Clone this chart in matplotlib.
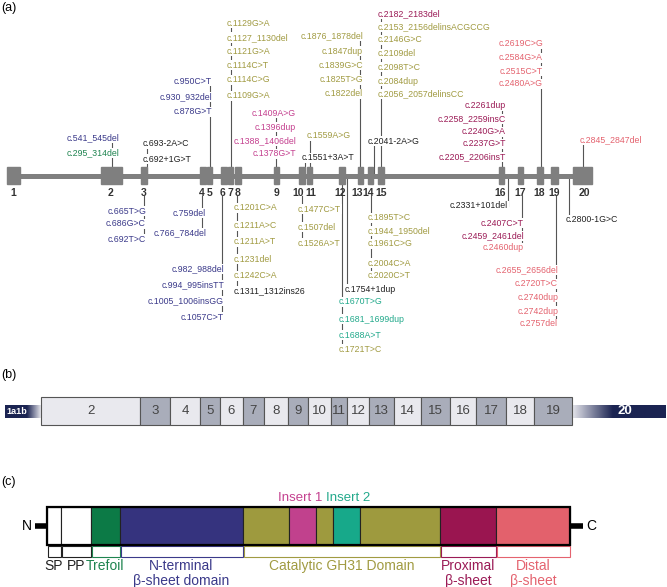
import numpy as np
import matplotlib.pyplot as plt
from matplotlib.patches import Rectangle
from matplotlib.colors import LinearSegmentedColormap

plt.rcParams['font.family'] = ['Liberation Sans', 'DejaVu Sans']

# ---------------- data ----------------
# (a) gene schematic: exons 1..20
exon_num = list(range(1, 21))
exon_start = [7, 101, 141, 200, 207, 221, 228, 235, 274, 299, 307, 339, 358, 368, 378, 499, 518, 537, 551, 573]
exon_end = [20, 122, 147, 206, 212, 227, 233, 241, 279, 305, 312, 345, 363, 373, 384, 504, 523, 543, 558, 592]

# domain colours (shared by all panels)
dom_color = {'SP': '#222222', 'T': '#1f8450', 'N': '#3b3a8a', 'C': '#a19b42',
             'I1': '#c4408f', 'I2': '#22a98b', 'P': '#9b1b56', 'D': '#e4636f',
             'S': '#222222'}

# variants, one list per connector
mut_labels = [
    ["c.541_545del", "c.295_314del"],
    ["c.693-2A>C", "c.692+1G>T"],
    ["c.950C>T", "c.930_932del", "c.878G>T"],
    ["c.1129G>A", "c.1127_1130del", "c.1121G>A", "c.1114C>T", "c.1114C>G", "c.1109G>A"],
    ["c.1409A>G", "c.1396dup", "c.1388_1406del", "c.1378G>T"],
    ["c.1559A>G"],
    ["c.1551+3A>T"],
    ["c.1876_1878del", "c.1847dup", "c.1839G>C", "c.1825T>G", "c.1822del"],
    ["c.2041-2A>G"],
    ["c.2182_2183del", "c.2153_2156delinsACGCCG", "c.2146G>C", "c.2109del",
     "c.2098T>C", "c.2084dup", "c.2056_2057delinsCC"],
    ["c.2261dup", "c.2258_2259insC", "c.2240G>A", "c.2237G>T", "c.2205_2206insT"],
    ["c.2619C>G", "c.2584G>A", "c.2515C>T", "c.2480A>G"],
    ["c.2845_2847del"],
    ["c.665T>G", "c.686G>C", "c.692T>C"],
    ["c.759del", "c.766_784del"],
    ["c.982_988del", "c.994_995insTT", "c.1005_1006insGG", "c.1057C>T"],
    ["c.1201C>A", "c.1211A>C", "c.1211A>T", "c.1231del", "c.1242C>A", "c.1311_1312ins26"],
    ["c.1477C>T", "c.1507del", "c.1526A>T"],
    ["c.1670T>G", "c.1681_1699dup", "c.1688A>T", "c.1721T>C"],
    ["c.1754+1dup"],
    ["c.1895T>C", "c.1944_1950del", "c.1961C>G", "c.2004C>A", "c.2020C>T"],
    ["c.2331+101del"],
    ["c.2407C>T", "c.2459_2461del", "c.2460dup"],
    ["c.2655_2656del", "c.2720T>C", "c.2740dup", "c.2742dup", "c.2757del"],
    ["c.2800-1G>C"],
]
mut_domains = [
    ['N', 'T'], ['S', 'S'], ['N'] * 3, ['C'] * 6, ['I1'] * 4, ['C'], ['S'],
    ['C'] * 5, ['S'], ['P'] + ['C'] * 6, ['P'] * 5, ['D'] * 4, ['D'],
    ['N'] * 3, ['N'] * 2, ['N'] * 4, ['C'] * 5 + ['S'], ['C'] * 3,
    ['I2'] * 3 + ['C'], ['S'], ['C'] * 5, ['S'], ['P', 'P', 'D'], ['D'] * 5, ['S'],
]

# (b) transcript schematic
b_exons = list(range(2, 20))
b_edges = [41, 140, 170, 200, 220, 243, 264, 288, 308, 331, 347, 369, 394, 421,
           450, 476, 506, 534, 572]

# (c) protein domains
c_edges = [47, 61, 91, 120, 243, 289, 316, 333, 360, 440, 496, 570]
c_fill = ['white', 'white', '#0c7a46', '#35337e', '#9e9a3e', '#c1418d',
          '#9e9a3e', '#17a98a', '#9e9a3e', '#9a1550', '#e3616c']
dom_names = ['SP', 'PP', 'Trefoil', 'N-terminal\nβ-sheet domain', 'Catalytic GH31 Domain',
             'Proximal\nβ-sheet', 'Distal\nβ-sheet']
dom_edges = [(47, 61), (61, 91), (91, 120), (120, 243), (243, 440), (440, 496), (496, 570)]
dom_key = ['SP', 'SP', 'T', 'N', 'C', 'P', 'D']

# ---------------- layout of panel (a) labels ----------------
num_x = [13, 111, 144, 202, 210, 222, 230, 238, 276, 298, 311, 340, 357, 368, 381,
         500, 520, 539, 554, 584]
grp_cx = [112, 147, 210, 231, 276, 310, 305, 360, 374, 381, 502, 541, 583,
          144, 202, 222, 237, 302, 342, 347, 371, 508, 522, 556, 569]
grp_tx = [119, 143, 212, 227, 296, 307, 302, 363, 368, 378, 506, 543, 580,
          146, 206, 224, 234, 298, 339, 345, 368, 508, 524, 558, 566]
grp_ha = ['right', 'left', 'right', 'left', 'right', 'left', 'left', 'right', 'left', 'left',
          'right', 'right', 'left',
          'right', 'right', 'right', 'left', 'left', 'left', 'left', 'left', 'right', 'right',
          'right', 'left']
grp_ys = [
    [138, 153], [144, 159], [81, 97, 112], [23, 37.5, 51, 65, 80, 96],
    [113, 127, 141, 154], [136], [158], [36, 51, 65, 80, 94], [141],
    [14, 27, 40, 54, 67, 81, 94], [106, 119, 132, 144, 157], [44, 58, 71, 84], [140],
    [211, 224, 239], [213, 233], [269, 285, 301, 317], [208, 226, 242, 259, 276, 291],
    [209, 227, 243], [302, 319, 335, 349], [289], [218, 231, 244, 263, 276], [206],
    [223, 236, 248], [270, 284, 297, 311, 324], [220],
]
grp_start = [176] * 13 + [196, 196, 196, 196, 196, 176, 176, 196, 176, 196, 196, 176]

# ---------------- drawing ----------------
fig = plt.figure(figsize=(6.67, 5.87), dpi=100)
ax = fig.add_axes([0, 0, 1, 1])

# panel (a)
ax.plot([exon_start[0], exon_end[-1]], [176, 176], color='#808080', lw=3.6,
        solid_capstyle='butt', zorder=2)
for s, e in zip(exon_start, exon_end):
    ax.add_patch(Rectangle((s, 167), e - s, 17, color='#7f7f7f', zorder=3))
for n, x in zip(exon_num, num_x):
    ax.text(x, 193, str(n), ha='center', va='center', fontsize=7.5,
            fontweight='bold', color='#333333', zorder=5)

for labels, doms, cx, tx, ha, ys, y0 in zip(mut_labels, mut_domains, grp_cx, grp_tx,
                                            grp_ha, grp_ys, grp_start):
    far = ys[0] if ys[0] < y0 else ys[-1]
    ax.plot([cx, cx], [y0, far], color='#555555', lw=0.8, zorder=1)
    for lab, d, y in zip(labels, doms, ys):
        ax.text(tx, y, lab, ha=ha, va='center', fontsize=6.3, color=dom_color[d],
                zorder=4, bbox=dict(facecolor='white', edgecolor='none', pad=0.5))

# panel (b)
navy = '#1b2452'
cmap = LinearSegmentedColormap.from_list('fade', [navy, '#e6e6ec'])
xl = np.linspace(5, 41, 200)
ax.imshow(np.clip((xl - 27) / 14, 0, 1)[None, :], cmap=cmap, vmin=0, vmax=1,
          extent=(5, 41, 418, 405), aspect='auto', zorder=2)
xr = np.linspace(572, 666, 300)
ax.imshow(np.clip((613 - xr) / 41, 0, 1)[None, :], cmap=cmap, vmin=0, vmax=1,
          extent=(572, 666, 418, 405), aspect='auto', zorder=2)
for i, n in enumerate(b_exons):
    fc = '#e9e9ee' if n % 2 == 0 else '#a9adba'
    ax.add_patch(Rectangle((b_edges[i], 397), b_edges[i + 1] - b_edges[i], 28,
                           facecolor=fc, edgecolor='#555555', lw=0.8, zorder=3))
    ax.text((b_edges[i] + b_edges[i + 1]) / 2, 411.5, str(n), ha='center', va='center',
            fontsize=9.5, color='#444444', zorder=4)
ax.text(16.5, 411.5, '1a1b', ha='center', va='center', fontsize=6.5, fontweight='bold',
        color='white', zorder=4)
ax.text(625, 411.5, '20', ha='center', va='center', fontsize=9.5, fontweight='bold',
        color='white', zorder=4)

# panel (c)
for i, fc in enumerate(c_fill):
    ax.add_patch(Rectangle((c_edges[i], 507), c_edges[i + 1] - c_edges[i], 38,
                           facecolor=fc, edgecolor='#222222', lw=0.8, zorder=3))
ax.add_patch(Rectangle((c_edges[0], 507), c_edges[-1] - c_edges[0], 38, fill=False,
                       edgecolor='black', lw=1.6, zorder=4))
ax.plot([35, 47], [526, 526], color='black', lw=4, solid_capstyle='butt')
ax.plot([570, 583], [526, 526], color='black', lw=4, solid_capstyle='butt')
ax.text(27, 526, 'N', ha='center', va='center', fontsize=10)
ax.text(591, 526, 'C', ha='center', va='center', fontsize=10)
ax.text((c_edges[5] + c_edges[6]) / 2 - 2, 498, 'Insert 1', ha='center', va='center',
        fontsize=9.5, color=dom_color['I1'])
ax.text((c_edges[7] + c_edges[8]) / 2 + 2, 498, 'Insert 2', ha='center', va='center',
        fontsize=9.5, color=dom_color['I2'])
for (s, e), name, k in zip(dom_edges, dom_names, dom_key):
    ax.add_patch(Rectangle((s + 0.5, 546), e - s - 1, 11, fill=False,
                           edgecolor=dom_color[k], lw=0.8))
    ax.text((s + e) / 2, 559, name, ha='center', va='top', fontsize=10,
            color=dom_color[k], linespacing=1.05)

for lab, y in zip(['(a)', '(b)', '(c)'], [8, 375, 482]):
    ax.text(1, y, lab, ha='left', va='center', fontsize=9)

ax.set_xlim(0, 667)
ax.set_ylim(587, 0)
ax.axis('off')
fig.savefig('out.png', dpi=100)
